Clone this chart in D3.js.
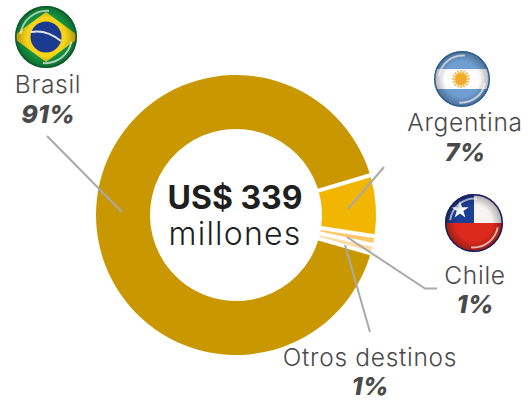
<!DOCTYPE html>
<html>
<head>
<meta charset="utf-8">
<script src="https://cdn.jsdelivr.net/npm/d3@7"></script>
<style>
html, body { margin: 0; padding: 0; background: #fff; }
svg { display: block; }
text { font-family: Inter, "Open Sans", sans-serif; fill: #4a4a4a; text-anchor: middle; }
</style>
</head>
<body>
<div id="chart"></div>
<script>
'use strict';
const destinos = ["Argentina", "Chile", "Otros destinos", "Brasil"];
const shares = [7, 1, 1, 91];
const shareLabels = ["7%", "1%", "1%", "91%"];
const sliceColors = ["#f2b500", "#ffc96b", "#ffdca3", "#c99700"];
const totalLines = ["US$ 339", "millones"];

var width = 532, height = 401;
var cx = 236, cy = 215;
var outerR = 140, innerR = 86;
var startDeg = 73.5;

var svg = d3.select("#chart").append("svg").attr("width", width).attr("height", height);
var defs = svg.append("defs");

// shading used on the round flags
var shade = defs.append("radialGradient").attr("id", "flag-shade");
shade.append("stop").attr("offset", "62%").attr("stop-color", "#000").attr("stop-opacity", 0);
shade.append("stop").attr("offset", "100%").attr("stop-color", "#000").attr("stop-opacity", 0.32);

// slices, pad is set on the arc so the thin ones keep their real share
var pie = d3.pie().sort(null)
    .startAngle(startDeg * Math.PI / 180)
    .endAngle((startDeg + 360) * Math.PI / 180);
var arc = d3.arc().innerRadius(innerR).outerRadius(outerR).padAngle(0.024);

svg.append("g").attr("transform", `translate(${cx},${cy})`)
    .selectAll("path").data(pie(shares)).enter().append("path")
    .attr("d", arc)
    .attr("fill", (d, i) => sliceColors[i]);

// leader lines
var leaders = [
    [[47, 136], [122, 212]],
    [[384, 167], [348, 209]],
    [[347, 237], [425, 288.5], [437, 288.5]],
    [[345, 245], [370, 332]]
];
svg.selectAll(".leader").data(leaders).enter().append("path")
    .attr("class", "leader")
    .attr("d", d3.line())
    .attr("fill", "none").attr("stroke", "#a9a9a9").attr("stroke-width", 2);

// centre text
svg.append("text").attr("x", 235).attr("y", 209).attr("font-size", 32).attr("font-weight", 700)
    .style("fill", "#1f1f1f").text(totalLines[0]);
svg.append("text").attr("x", 235).attr("y", 245).attr("font-size", 32).attr("font-weight", 300)
    .attr("letter-spacing", 1.2).style("fill", "#1f1f1f").text(totalLines[1]);

// country labels
var labelPos = [
    {x: 465, y: 131, py: 161},
    {x: 475, y: 284, py: 313},
    {x: 370, y: 366, py: 395},
    {x: 48, y: 93, py: 123}
];
labelPos.forEach(function (p, i) {
    svg.append("text").attr("x", p.x).attr("y", p.y).attr("font-size", 24.5).attr("font-weight", 300)
        .attr("letter-spacing", 0.7).text(destinos[i]);
    svg.append("text").attr("x", p.x).attr("y", p.py).attr("font-size", 25).attr("font-weight", 800)
        .attr("font-style", "italic").text(shareLabels[i]);
});

// flags
function flag(id, x, y, r, ring, draw) {
    defs.append("clipPath").attr("id", id).append("circle").attr("cx", x).attr("cy", y).attr("r", r);
    var g = svg.append("g").attr("clip-path", `url(#${id})`);
    draw(g);
    g.append("circle").attr("cx", x).attr("cy", y).attr("r", r).attr("fill", "url(#flag-shade)");
    // glossy shine
    g.append("path")
        .attr("d", `M${x - r * 0.82},${y - r * 0.1} A${r * 0.86},${r * 0.86} 0 0 1 ${x + r * 0.1},${y - r * 0.84}`)
        .attr("fill", "none").attr("stroke", "#fff").attr("stroke-opacity", 0.6).attr("stroke-width", 2);
    g.append("path")
        .attr("d", `M${x + r * 0.82},${y + r * 0.15} A${r * 0.86},${r * 0.86} 0 0 1 ${x - r * 0.1},${y + r * 0.84}`)
        .attr("fill", "none").attr("stroke", "#fff").attr("stroke-opacity", 0.65).attr("stroke-width", 2);
    svg.append("circle").attr("cx", x).attr("cy", y).attr("r", r - 0.75)
        .attr("fill", "none").attr("stroke", ring).attr("stroke-width", 1.5);
}

flag("flag-br", 46, 37, 31, "#0b5c2a", function (g) {
    g.append("circle").attr("cx", 46).attr("cy", 37).attr("r", 31).attr("fill", "#169c45");
    g.append("path").attr("d", "M46,12 L80,37 L46,62 L12,37 Z").attr("fill", "#f7d417");
    g.append("circle").attr("cx", 46).attr("cy", 37).attr("r", 15.5).attr("fill", "#1c3a8f");
    g.append("path").attr("d", "M31,32 Q46,29 61,41").attr("fill", "none").attr("stroke", "#dfe6ef").attr("stroke-width", 2);
});

flag("flag-ar", 462, 79, 28, "#2c5f92", function (g) {
    g.append("circle").attr("cx", 462).attr("cy", 79).attr("r", 28).attr("fill", "#6f9fd2");
    g.append("rect").attr("x", 434).attr("y", 69).attr("width", 56).attr("height", 20).attr("fill", "#fdfdfd");
    // sun, rays first
    g.selectAll(".ray").data(d3.range(16)).enter().append("line")
        .attr("class", "ray")
        .attr("transform", d => `translate(461,79) rotate(${d * 22.5})`)
        .attr("y1", 5).attr("y2", 9)
        .attr("stroke", "#f4b93a").attr("stroke-width", 1.6);
    g.append("circle").attr("cx", 461).attr("cy", 79).attr("r", 6).attr("fill", "#f1ab2c");
});

flag("flag-cl", 474, 223, 29, "#1a1f5e", function (g) {
    g.append("circle").attr("cx", 474).attr("cy", 223).attr("r", 29).attr("fill", "#dc2a1c");
    g.append("rect").attr("x", 445).attr("y", 194).attr("width", 58).attr("height", 29).attr("fill", "#f6f3f1");
    g.append("rect").attr("x", 445).attr("y", 194).attr("width", 29).attr("height", 29).attr("fill", "#1c3f94");
    g.append("path").attr("transform", "translate(460,210)")
        .attr("d", d3.symbol(d3.symbolStar, 95)()).attr("fill", "#fff");
});
</script>
</body>
</html>
